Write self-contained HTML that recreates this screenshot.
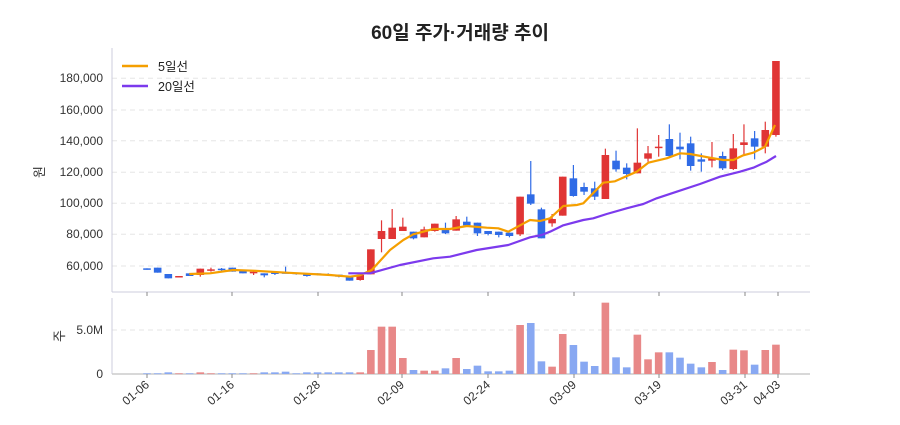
<!DOCTYPE html>
<html><head><meta charset="utf-8"><style>
body{margin:0;background:#fff;}
svg text{font-family:"Liberation Sans","Noto Sans CJK KR",sans-serif;}
</style></head><body>
<svg id="s" width="900" height="420" xmlns="http://www.w3.org/2000/svg">
<rect width="900" height="420" fill="#fff"/>
<text x="460" y="39" text-anchor="middle" font-size="19" font-weight="bold" fill="#222">60일 주가·거래량 추이</text>
<g stroke="#e6e6e6" stroke-dasharray="5,4" stroke-width="1">
<line x1="112" x2="810" y1="78.3" y2="78.3"/><line x1="112" x2="810" y1="110" y2="110"/><line x1="112" x2="810" y1="140.7" y2="140.7"/><line x1="112" x2="810" y1="172.3" y2="172.3"/><line x1="112" x2="810" y1="203.3" y2="203.3"/><line x1="112" x2="810" y1="234.3" y2="234.3"/><line x1="112" x2="810" y1="266" y2="266"/>
<line x1="112" x2="810" y1="330" y2="330"/>
</g>
<g font-size="12" fill="#333" text-anchor="end">
<text x="103" y="82">180,000</text><text x="103" y="114">160,000</text><text x="103" y="145">140,000</text><text x="103" y="176">120,000</text><text x="103" y="207">100,000</text><text x="103" y="238">80,000</text><text x="103" y="270">60,000</text>
<text x="103" y="334">5.0M</text><text x="103" y="378">0</text>
</g>
<text transform="translate(44,172) rotate(-90)" font-size="13" fill="#333" text-anchor="middle">원</text>
<text transform="translate(64,336) rotate(-90)" font-size="13" fill="#333" text-anchor="middle">주</text>
<line x1="112" y1="48" x2="112" y2="292" stroke="#ccd" />
<line x1="112" y1="292" x2="810" y2="292" stroke="#ccd"/>
<line x1="112" y1="298" x2="112" y2="374" stroke="#ccd" />
<line x1="112" y1="374" x2="810" y2="374" stroke="#ccc" stroke-width="1.5"/>
<g id="c"></g>
<g font-size="12" fill="#333" text-anchor="end" id="xt"></g>
<g>
<line x1="122" y1="66" x2="148" y2="66" stroke="#f59f00" stroke-width="2.5"/><text x="158" y="71" font-size="12.5" fill="#222">5일선</text>
<line x1="122" y1="86" x2="148" y2="86" stroke="#7c3aed" stroke-width="2.5"/><text x="158" y="91" font-size="12.5" fill="#222">20일선</text>
</g>
</svg>
<script>
const NS="http://www.w3.org/2000/svg";
const g=document.getElementById('c');
function el(t,a){const e=document.createElementNS(NS,t);for(const k in a)e.setAttribute(k,a[k]);g.appendChild(e);return e;}
const X=i=>147+i*10.66;
// zoom1: [top,bot,wt,wb,col] zoomed y
const d1=[[685,689,685,689,'b'],[683,698,683,698,'b'],[702,715,702,715,'b'],[708,712,708,712,'r'],[700,708,700,708,'b'],[686,705,686,710,'r'],[688,692,683,695,'r'],[686,690,684,692,'b'],[683,695,683,695,'b'],[692,700,692,700,'b'],[695,700,690,705,'r'],[700,706,700,712,'b'],[697,702,697,705,'b'],[697,699,680,700,'b'],[698,702,698,704,'b'],[702,708,702,710,'b'],[700,704,700,706,'b'],[702,706,700,708,'b'],[704,710,704,712,'b'],[711,722,711,722,'b'],[705,720,705,722,'r'],[628,703,628,703,'r'],[573,597,541,637,'r'],[563,597,507,597,'r'],[560,573,533,573,'r'],[575,595,575,598,'b'],[568,592,560,592,'r'],[551,573,551,575,'r'],[565,580,548,582,'b'],
[538,572,528,572,'r'],[545,556,530,560,'b'],[548,580,548,588,'b'],[573,582,573,586,'b'],[575,585,575,592,'b'],[578,588,578,592,'b'],[470,583,470,588,'r'],[463,491,363,495,'b'],[508,595,503,595,'b'],[537,550,522,560,'r'],[410,527,410,527,'r'],[415,468,375,470,'b'],[441,455,428,465,'b'],[445,470,425,480,'b'],[345,477,326,477,'r'],[362,388,332,395,'b'],[383,402,370,418,'b'],[368,400,265,400,'r'],[340,356,318,365,'r'],[320,324,285,350,'r'],[297,348,253,350,'b'],[320,328,278,358,'b'],[310,378,290,392,'b'],[358,365,340,395,'b'],[355,362,306,382,'r'],[348,385,335,390,'b'],[325,387,282,390,'r'],[307,315,253,345,'r'],[295,320,273,358,'b'],[270,320,245,340,'r'],[63,285,63,290,'r']];
const vol=[2,2,5,2,2,5,2,2,2,2,2,5,5,7,2,5,5,5,5,5,5,72,142,142,48,12,10,10,17,48,15,25,8,8,10,147,153,38,22,120,87,37,24,214,50,20,118,44,65,65,49,31,20,36,12,73,71,28,72,88];
const Y=z=>40+z/3;
d1.forEach((c,i)=>{const x=X(i);const col=c[4]=='r'?'#e03535':'#2f6be6';
 el('line',{x1:x,x2:x,y1:Y(c[2]),y2:Y(c[3]),stroke:col,'stroke-width':1.2});
 el('rect',{x:x-3.8,y:Y(c[0]),width:7.6,height:Math.max(1.5,(c[1]-c[0])/3),fill:col});
 const h=vol[i]/3;const vc=c[4]=='r'?'#e88888':'#88a8f2';
 el('rect',{x:x-3.8,y:374-h,width:7.6,height:Math.max(h,0.8),fill:vc});
});
function pl(pts1,pts2,col){let s=[];pts1.forEach(p=>s.push((100+p[0]/3).toFixed(1)+','+Y(p[1]).toFixed(1)));pts2.forEach(p=>s.push((450+p[0]/3).toFixed(1)+','+Y(p[1]).toFixed(1)));el('polyline',{points:s.join(' '),fill:'none',stroke:col,'stroke-width':2.2,'stroke-linejoin':'round'});}
pl([[268,702],[330,700],[400,690],[460,692],[560,698],[690,705],[750,710],[780,706],[815,690],[870,630],[910,600],[940,583],[1000,567]],[[0,567],[50,558],[110,563],[145,565],[175,575],[240,540],[270,543],[300,535],[340,498],[380,495],[400,490],[460,428],[495,424],[560,395],[595,368],[650,355],[690,340],[720,342],[780,353],[820,360],[850,360],[880,346],[910,338],[945,320],[975,255]],'#f59f00');
pl([[745,700],[810,700],[900,675],[1000,655]],[[0,650],[80,630],[175,615],[240,592],[275,585],[300,575],[340,556],[400,540],[430,535],[470,522],[530,505],[580,492],[620,475],[680,455],[750,432],[810,410],[870,395],[910,383],[950,365],[978,348]],'#7c3aed');
const xt=document.getElementById('xt');
[[147,'01-06'],[232,'01-16'],[318,'01-28'],[402,'02-09'],[488,'02-24'],[574,'03-09'],[659,'03-19'],[745,'03-31'],[778,'04-03']].forEach(t=>{
 el('line',{x1:t[0],x2:t[0],y1:292,y2:296,stroke:'#888'});
 el('line',{x1:t[0],x2:t[0],y1:374,y2:378,stroke:'#888'});
 const e=document.createElementNS(NS,'text');e.setAttribute('transform',`translate(${t[0]+3},${386}) rotate(-40)`);e.textContent=t[1];xt.appendChild(e);
});
</script>
</body></html>
